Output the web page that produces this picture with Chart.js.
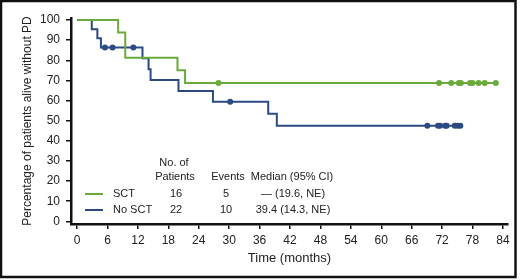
<!DOCTYPE html>
<html>
<head>
<meta charset="utf-8">
<script src="https://cdn.jsdelivr.net/npm/chart.js@4"></script>
<style>
  html, body { margin: 0; padding: 0; background: #fff; }
</style>
</head>
<body>
<canvas id="km" width="520" height="280"></canvas>
<script>
// Kaplan-Meier steps (months, % alive without PD)
const sctTimes = [0, 8.1, 9.5, 19.8, 21.3, 82.6];
const sctSurv = [100, 93.75, 81.25, 75, 68.75, 68.75];
const sctCensored = [27.9, 71.4, 73.8, 75.3, 75.7, 77.5, 78.0, 79.2, 80.4, 82.6];

const noSctTimes = [0, 2.9, 4.0, 4.7, 12.9, 14.1, 14.5, 20.0, 26.8, 37.7, 39.4, 75.8];
const noSctSurv = [100, 95.45, 90.91, 86.36, 80.97, 75.57, 70.17, 64.77, 59.38, 53.44, 47.5, 47.5];
const noSctCensored = [5.5, 7.0, 11.1, 30.2, 69.1, 71.2, 71.6, 72.6, 72.9, 74.5, 75.1, 75.6];

const xTicks = [0, 6, 12, 18, 24, 30, 36, 42, 48, 54, 60, 66, 72, 78, 84];
const yTicks = [0, 10, 20, 30, 40, 50, 60, 70, 80, 90, 100];

const tableHead = ['No. of', 'Patients', 'Events', 'Median (95% CI)'];
const groupNames = ['SCT', 'No SCT'];
const groupPatients = ['16', '22'];
const groupEvents = ['5', '10'];
const groupMedian = ['\u2014 (19.6, NE)', '39.4 (14.3, NE)'];

const GREEN = '#6aaa3c';
const BLUE = '#2c4a82';
const FONT = "'Liberation Sans', Arial, sans-serif";

function steps(times, surv) {
    return times.map((t, i) => ({ x: t, y: surv[i] }));
}

function survAt(times, surv, t) {
    let v = surv[0];
    for (let i = 0; i < times.length; i++) {
        if (times[i] <= t) v = surv[i];
    }
    return v;
}

function censorPoints(cens, times, surv) {
    return cens.map(t => ({ x: t, y: survAt(times, surv, t) }));
}

const tablePlugin = {
    id: 'kmTable',
    afterDraw: function (chart) {
        const ctx = chart.ctx;
        ctx.save();
        ctx.fillStyle = '#222';
        ctx.font = "11px " + FONT;
        ctx.textBaseline = 'middle';
        ctx.textAlign = 'center';
        ctx.fillText(tableHead[0], 174, 163);
        ctx.fillText(tableHead[1], 175, 177);
        ctx.fillText(tableHead[2], 228, 177);
        ctx.fillText(tableHead[3], 292, 177);

        const rowsY = [194, 210];
        const colors = [GREEN, BLUE];
        for (let i = 0; i < groupNames.length; i++) {
            ctx.strokeStyle = colors[i];
            ctx.lineWidth = 2;
            ctx.beginPath();
            ctx.moveTo(85, rowsY[i]);
            ctx.lineTo(103, rowsY[i]);
            ctx.stroke();
            ctx.textAlign = 'left';
            ctx.fillText(groupNames[i], 113, rowsY[i]);
            ctx.textAlign = 'center';
            ctx.fillText(groupPatients[i], 176, rowsY[i]);
            ctx.fillText(groupEvents[i], 226, rowsY[i]);
            ctx.fillText(groupMedian[i], 293, rowsY[i]);
        }

        // frame round the figure
        ctx.strokeStyle = '#111';
        ctx.lineWidth = 2.5;
        ctx.strokeRect(1, 1, 514.5, 276);
        ctx.restore();
    }
};

const ctx = document.getElementById('km').getContext('2d');

new Chart(ctx, {
    type: 'line',
    data: {
        datasets: [
            {
                label: 'SCT',
                data: steps(sctTimes, sctSurv),
                stepped: 'before',
                borderColor: GREEN,
                borderWidth: 2,
                pointRadius: 0,
                fill: false
            },
            {
                label: 'No SCT',
                data: steps(noSctTimes, noSctSurv),
                stepped: 'before',
                borderColor: BLUE,
                borderWidth: 2,
                pointRadius: 0,
                fill: false
            },
            {
                label: 'SCT censored',
                type: 'scatter',
                data: censorPoints(sctCensored, sctTimes, sctSurv),
                backgroundColor: GREEN,
                borderColor: GREEN,
                pointRadius: 3,
                borderWidth: 0
            },
            {
                label: 'No SCT censored',
                type: 'scatter',
                data: censorPoints(noSctCensored, noSctTimes, noSctSurv),
                backgroundColor: BLUE,
                borderColor: BLUE,
                pointRadius: 3,
                borderWidth: 0
            }
        ]
    },
    options: {
        responsive: false,
        animation: false,
        layout: {
            padding: { left: 0, top: 18, right: 12, bottom: 0 }
        },
        plugins: {
            legend: { display: false },
            tooltip: { enabled: false }
        },
        scales: {
            x: {
                type: 'linear',
                min: -1.2,
                max: 85,
                afterBuildTicks: function (scale) {
                    scale.ticks = xTicks.map(v => ({ value: v }));
                },
                afterFit: function (scale) {
                    scale.height = 56;
                },
                grid: {
                    display: true,
                    drawOnChartArea: false,
                    drawTicks: true,
                    tickLength: 5,
                    color: '#111',
                    lineWidth: 1.5
                },
                border: { display: true, color: '#111', width: 2.5 },
                ticks: {
                    color: '#222',
                    padding: 4,
                    maxRotation: 0,
                    font: { family: FONT, size: 12 }
                },
                title: {
                    display: true,
                    text: 'Time (months)',
                    color: '#222',
                    padding: { top: 0, bottom: 14 },
                    font: { family: FONT, size: 13 }
                }
            },
            y: {
                min: -1.3,
                max: 101,
                afterBuildTicks: function (scale) {
                    scale.ticks = yTicks.map(v => ({ value: v }));
                },
                afterFit: function (scale) {
                    scale.width = 71;
                },
                grid: {
                    display: true,
                    drawOnChartArea: false,
                    drawTicks: true,
                    tickLength: 5,
                    color: '#111',
                    lineWidth: 1.5
                },
                border: { display: true, color: '#111', width: 2.5 },
                ticks: {
                    color: '#222',
                    padding: 6,
                    font: { family: FONT, size: 12 }
                },
                title: {
                    display: true,
                    text: 'Percentage of patients alive without PD',
                    color: '#222',
                    padding: { top: 20, bottom: 0 },
                    font: { family: FONT, size: 12 }
                }
            }
        }
    },
    plugins: [tablePlugin]
});
</script>
</body>
</html>
